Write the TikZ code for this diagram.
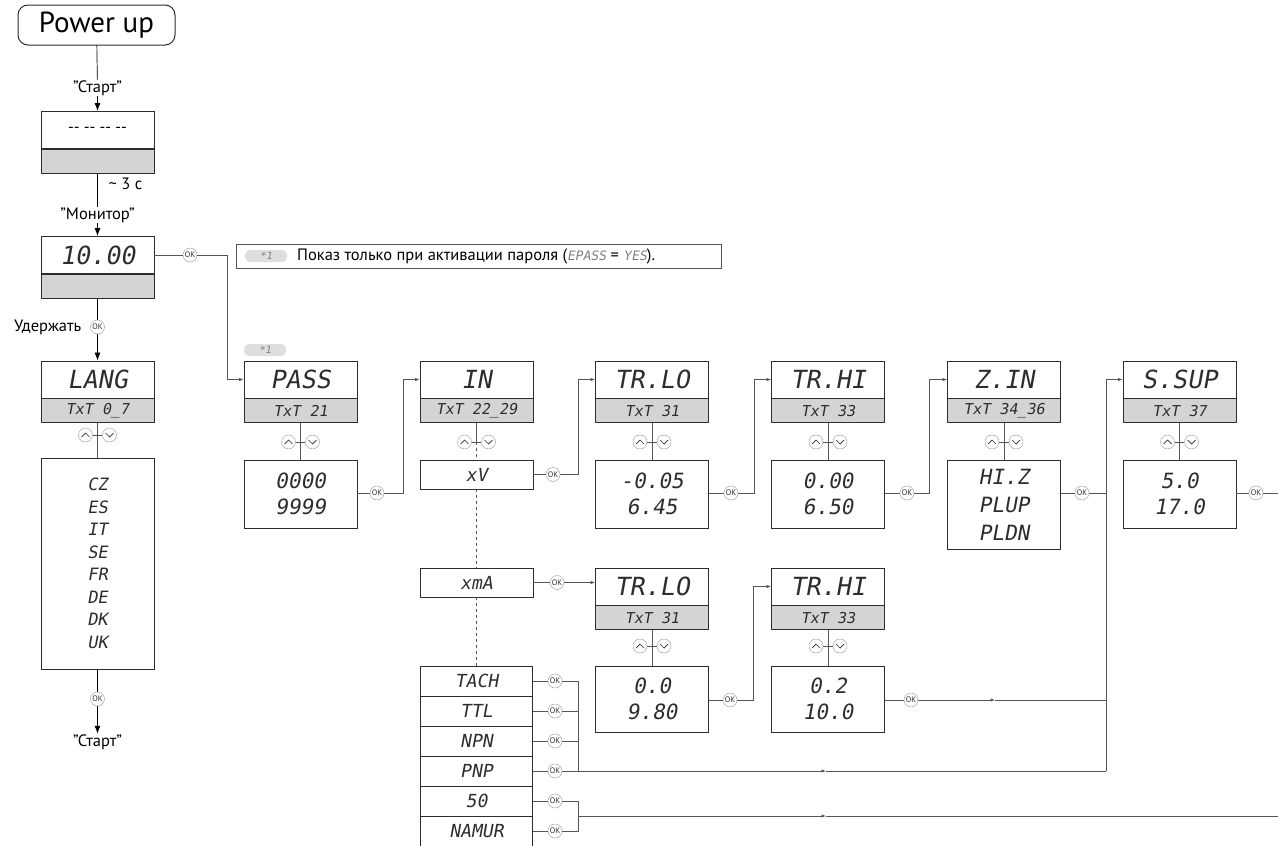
\documentclass[tikz,border=0pt]{standalone}
\usepackage{fontspec}
\setmainfont{PT Sans}
\newfontfamily\lcdfont[FakeSlant=0.18]{DejaVu Sans Mono}
\usetikzlibrary{positioning,arrows.meta,calc}
\definecolor{lcdgray}{RGB}{212,212,212}
\definecolor{linegray}{RGB}{85,85,85}
\definecolor{btngray}{RGB}{165,165,165}
\definecolor{lcdink}{RGB}{45,45,45}
\definecolor{pillgray}{RGB}{222,222,222}
\tikzset{
  lcdtop/.style={draw=lcdink, line width=0.9pt, fill=white, minimum width=113,
                 minimum height=37, inner sep=0pt, text=lcdink,
                 font=\lcdfont\fontsize{25}{25}\selectfont},
  lcdtxt/.style={draw=lcdink, line width=0.9pt, fill=lcdgray, minimum width=113,
                 minimum height=24, inner sep=0pt, text=lcdink,
                 font=\lcdfont\fontsize{15}{15}\selectfont},
  valbox/.style={draw=lcdink, line width=0.7pt, fill=white, minimum width=113,
                 minimum height=68, inner sep=0pt, align=center, text=lcdink,
                 font=\lcdfont\fontsize{21}{26}\selectfont},
  lcdrow/.style={draw=lcdink, line width=0.8pt, fill=white, minimum width=112,
                 minimum height=30, inner sep=0pt, text=lcdink,
                 font=\lcdfont\fontsize{18}{18}\selectfont},
  okbtn/.style={circle, draw=btngray, line width=0.5pt, fill=white, minimum size=14,
                inner sep=0pt, text=lcdink, font=\fontsize{8}{8}\selectfont},
  udbtn/.style={circle, draw=btngray, line width=0.5pt, fill=white, minimum size=14,
                inner sep=0pt},
  udup/.style={path picture={\draw[lcdink, line width=0.7pt,
                 shift={(path picture bounding box.center)}] (-4,2) -- (0,-2) -- (4,2);}},
  uddown/.style={path picture={\draw[lcdink, line width=0.7pt,
                 shift={(path picture bounding box.center)}] (-4,-2) -- (0,2) -- (4,-2);}},
  pill/.style={fill=pillgray, rounded corners=5pt, minimum width=42, minimum height=12,
               inner sep=0pt, text=gray, font=\lcdfont\fontsize{10}{10}\selectfont},
  label/.style={inner sep=0.5pt, font=\fontsize{16.5}{16.5}\selectfont},
  wire/.style={draw=linegray, line width=0.7pt},
  flow/.style={-{Latex[length=4.5pt,width=3.5pt]}, draw=linegray, line width=0.7pt},
  bigflow/.style={-{Latex[length=8pt,width=6pt]}, draw=black, line width=0.8pt},
}
% display header: white title over grey TxT strip
\newcommand{\lcdhead}[5]{%
  \node[lcdtop] (#1) at (#2,#3) {#4};
  \node[lcdtxt, anchor=north] (#1-t) at (#1.south) {#5};}
% up/down button pair beside a vertical line
\newcommand{\updown}[3]{%
  \node[udbtn, udup] (#1-u) at (#2-12,#3) {};
  \node[udbtn, uddown] (#1-d) at (#2+12,#3) {};
  \draw[wire] (#1-u) -- (#1-d);}
\begin{document}
\begin{tikzpicture}[x=1pt, y=-1pt]
\useasboundingbox (0,0) rectangle (1278,846);
% column centres
\def\ca{97.5} \def\cb{300.5} \def\cc{476.5} \def\cd{652} \def\ce{828}
\def\cf{1004} \def\cg{1179.5}

% power up, start and monitor
\node[draw=lcdink, line width=1pt, rounded corners=10pt, minimum width=157,
      minimum height=40, inner sep=0pt, font=\fontsize{29}{29}\selectfont]
  (power) at (96.5,25) {Power up};
\node[label] (start1) at (\ca,88) {”Старт”};
\draw[wire, draw=black] (power) -- (start1);
\node[lcdtop, font=\fontsize{16}{16}\selectfont, text=black] (init) at (\ca,130)
  {-{}-~-{}-~-{}-~-{}-};
\node[lcdtxt, anchor=north] (init-t) at (init.south) {};
\draw[bigflow] (start1) -- (init);
\node[label, anchor=west] (wait) at (108,184) {\textasciitilde\ 3 c};
\node[label] (monlbl) at (\ca,215) {”Монитор”};
\draw[wire, draw=black] (init-t) -- (monlbl);
\lcdhead{mon}{\ca}{255}{10.00}{}
\draw[bigflow] (monlbl) -- (mon);

% language menu
\node[okbtn] (okhold) at (\ca,327) {OK};
\node[label, anchor=east] (hold) at (82,327) {Удержать};
\draw[wire, draw=black] (mon-t) -- (okhold);
\lcdhead{lang}{\ca}{379.5}{LANG}{TxT~0\_7}
\draw[bigflow] (okhold) -- (lang);
\updown{langud}{\ca}{435}
\node[valbox, minimum height=211, font=\lcdfont\fontsize{17}{22.5}\selectfont]
  (langlist) at (\ca,563.5) {CZ\\ES\\IT\\SE\\FR\\DE\\DK\\UK};
\draw[wire] (lang-t) -- (langlist);
\node[okbtn] (okend) at (\ca,699) {OK};
\draw[wire, draw=black] (langlist) -- (okend);
\node[label] (start2) at (\ca,742) {”Старт”};
\draw[bigflow] (okend) -- (start2);

% footnote
\node[draw=linegray, line width=0.7pt, minimum width=485, minimum height=24]
  (note) at (478.5,256) {};
\node[pill] (notepill) at (266,256) {*1};
\node[anchor=west, inner sep=0pt, font=\fontsize{16.5}{17}\selectfont]
  (notetext) at (297,256) {Показ только при активации пароля
  ({\lcdfont\fontsize{13}{13}\selectfont\color{gray}EPASS} =
   {\lcdfont\fontsize{13}{13}\selectfont\color{gray}YES}).};

% monitor -> password
\node[okbtn] (okmon) at (190,255) {OK};
\draw[wire] (mon) -- (okmon);
\coordinate (jmon) at (227,255);
\node[pill] (passpill) at (265,350) {*1};
\lcdhead{pass}{\cb}{379.5}{PASS}{TxT~21}
\draw[flow] (okmon) -- (jmon) |- (pass);
\updown{passud}{\cb}{442}
\node[valbox] (passval) at (\cb,494) {0000\\9999};
\draw[wire] (pass-t) -- (passval);
\node[okbtn] (okpass) at (377,493) {OK};
\draw[wire] (passval.east |- okpass) -- (okpass);

% input type
\lcdhead{inp}{\cc}{379.5}{IN}{TxT~22\_29}
\draw[flow] (okpass) -- (403,493) |- (inp);
\updown{inpud}{\cc}{442}
\node[lcdrow, minimum width=113, minimum height=29] (xv) at (\cc,474.5) {xV};
\node[lcdrow, minimum width=113, minimum height=29] (xma) at (\cc,582.5) {xmA};
\coordinate (inpmid) at (\cc,442);
\draw[wire] (inp-t) -- (inpmid);
\draw[wire, dashed] (inpmid) -- (xv);
\draw[wire, dashed] (xv) -- (xma);

% voltage input: range low, range high, impedance, supply
\node[okbtn] (okxv) at (553,474.5) {OK};
\draw[wire] (xv) -- (okxv);
\lcdhead{trlo}{\cd}{379.5}{TR.LO}{TxT~31}
\draw[flow] (okxv) -- (578,474.5) |- (trlo);
\updown{trloud}{\cd}{442}
\node[valbox] (trloval) at (\cd,494) {-0.05\\6.45};
\draw[wire] (trlo-t) -- (trloval);
\node[okbtn] (oktrlo) at (731,493) {OK};
\draw[wire] (trloval.east |- oktrlo) -- (oktrlo);

\lcdhead{trhi}{\ce}{379.5}{TR.HI}{TxT~33}
\draw[flow] (oktrlo) -- (754,493) |- (trhi);
\updown{trhiud}{\ce}{442}
\node[valbox] (trhival) at (\ce,494) {0.00\\6.50};
\draw[wire] (trhi-t) -- (trhival);
\node[okbtn] (oktrhi) at (907,493) {OK};
\draw[wire] (trhival.east |- oktrhi) -- (oktrhi);

\lcdhead{zin}{\cf}{379.5}{Z.IN}{TxT~34\_36}
\draw[flow] (oktrhi) -- (929,493) |- (zin);
\updown{zinud}{\cf}{442}
\node[valbox, minimum height=89, font=\lcdfont\fontsize{21}{28}\selectfont]
  (zinval) at (\cf,504.5) {HI.Z\\PLUP\\PLDN};
\draw[wire] (zin-t) -- (zinval);
\node[okbtn] (okzin) at (1082,493) {OK};
\draw[wire] (zinval.east |- okzin) -- (okzin);

\coordinate (jz) at (1106,493);
\coordinate (jbot) at (1106,771);
\lcdhead{ssup}{\cg}{379.5}{S.SUP}{TxT~37}
\draw[flow] (okzin) -- (jz) |- (ssup);
\draw[wire] (jz) -- (jbot);
\updown{ssupud}{\cg}{442}
\node[valbox] (ssupval) at (\cg,494) {5.0\\17.0};
\draw[wire] (ssup-t) -- (ssupval);
\node[okbtn] (okssup) at (1256,493) {OK};
\coordinate (ssupend) at (1278,493);
\draw[wire] (ssupval.east |- okssup) -- (okssup);
\draw[wire] (okssup) -- (ssupend);

% current input: range low, range high
\node[okbtn] (okxma) at (557,582.5) {OK};
\draw[wire] (xma) -- (okxma);
\lcdhead{trloa}{\cd}{586.5}{TR.LO}{TxT~31}
\draw[flow] (okxma) -- (okxma -| trloa.west);
\updown{trloaud}{\cd}{646}
\node[valbox, minimum height=66] (trloaval) at (\cd,699) {0.0\\9.80};
\draw[wire] (trloa-t) -- (trloaval);
\node[okbtn] (oktrloa) at (730,700) {OK};
\draw[wire] (trloaval.east |- oktrloa) -- (oktrloa);

\lcdhead{trhia}{\ce}{586.5}{TR.HI}{TxT~33}
\draw[flow] (oktrloa) -- (753,700) |- (trhia);
\updown{trhiaud}{\ce}{646}
\node[valbox, minimum height=66] (trhiaval) at (\ce,699) {0.2\\10.0};
\draw[wire] (trhia-t) -- (trhiaval);
\node[okbtn] (oktrhia) at (911,700) {OK};
\draw[wire] (trhiaval.east |- oktrhia) -- (oktrhia);
\coordinate (mtrhia) at (995,700);
\draw[flow] (oktrhia) -- (mtrhia);
\draw[wire] (mtrhia) -- (jz |- mtrhia);

% pulse inputs
\draw[wire, dashed] (xma) -- (\cc,666);
\foreach \nm/\txt/\yy in {tach/TACH/681, ttl/TTL/711, npn/NPN/741,
                          pnp/PNP/771, sfifty/50/801, namur/NAMUR/831} {
  \node[lcdrow] (\nm) at (\cc,\yy) {\txt};
  \node[okbtn] (ok\nm) at (555,\yy) {OK};
  \draw[wire] (\nm) -- (ok\nm);
}
\coordinate (jpnp) at (578,771);
\foreach \nm in {tach,ttl,npn}
  \draw[wire] (ok\nm) -| (jpnp);
\coordinate (mpnp) at (826,771);
\draw[flow] (okpnp) -- (mpnp);
\draw[wire] (mpnp) -- (jbot);

\coordinate (jnam) at (578,816);
\foreach \nm in {sfifty,namur}
  \draw[wire] (ok\nm) -| (jnam);
\coordinate (mnam) at (826,816);
\coordinate (namend) at (1278,816);
\draw[flow] (jnam) -- (mnam);
\draw[wire] (mnam) -- (namend);
\end{tikzpicture}
\end{document}
